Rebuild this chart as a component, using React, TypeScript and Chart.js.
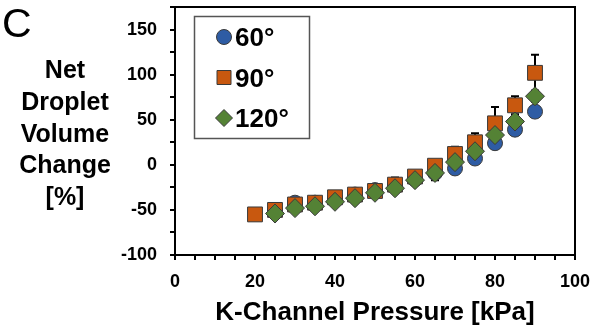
import React, { useEffect, useRef } from "react";
import { Chart, registerables } from "chart.js";

Chart.register(...registerables);

const pressures = [20, 25, 30, 35, 40, 45, 50, 55, 60, 65, 70, 75, 80, 85, 90];
const pressures60 = [25, 30, 35, 40, 45, 50, 55, 60, 65, 70, 75, 80, 85, 90];
const pressures120 = [25, 30, 35, 40, 45, 50, 55, 60, 65, 70, 75, 80, 85, 90];

const vol60 = [-50, -42, -42, -37, -33, -28, -23, -16, -9, -4, 7, 24, 39, 59];
const err60 = [3, 3, 3, 3, 3, 3, 4, 4, 8, 4, 4, 5, 5, 6];
const vol90 = [-55, -50, -44, -42, -36, -33, -29, -22, -13, -1, 12, 25, 46, 66, 102];
const err90 = [2, 3, 3, 3, 3, 3, 4, 8, 4, 4, 8, 10, 18, 10, 20];
const vol120 = [-54, -48, -46, -41, -37, -31, -26, -17, -9, 3, 15, 33, 48, 76];
const err120 = [3, 3, 3, 3, 3, 3, 3, 3, 3, 4, 4, 5, 5, 6];

const seriesLabels = ["60°", "90°", "120°"];
const xTitle = "K-Channel Pressure [kPa]";
const yTitleLines = ["Net", "Droplet", "Volume", "Change", "[%]"];
const panelLetter = "C";

const BLUE = "#2E5CA4";
const ORANGE = "#C8580F";
const GREEN = "#548235";
const EDGE = "#3a3a3a";
const FONT = "Arial, 'Liberation Sans', Helvetica, sans-serif";

function drawMarker(ctx: CanvasRenderingContext2D, style: string, x: number, y: number, r: number, fill: string) {
  ctx.save();
  ctx.fillStyle = fill;
  ctx.strokeStyle = EDGE;
  ctx.lineWidth = 1;
  ctx.beginPath();
  if (style === "circle") {
    ctx.arc(x, y, r, 0, Math.PI * 2);
  } else if (style === "rect") {
    ctx.rect(x - r, y - r, 2 * r, 2 * r);
  } else {
    ctx.moveTo(x, y - r);
    ctx.lineTo(x + r, y);
    ctx.lineTo(x, y + r);
    ctx.lineTo(x - r, y);
    ctx.closePath();
  }
  ctx.fill();
  ctx.stroke();
  ctx.restore();
}

const errorBarPlugin = {
  id: "errorBars",
  beforeDatasetsDraw(chart: any) {
    const ctx = chart.ctx;
    const xs = chart.scales.x;
    const ys = chart.scales.y;
    ctx.save();
    ctx.strokeStyle = "#000";
    ctx.lineWidth = 2;
    chart.data.datasets.forEach((ds: any) => {
      const errs: number[] = ds.errors || [];
      ds.data.forEach((p: any, i: number) => {
        const e = errs[i];
        if (!e) return;
        const px = xs.getPixelForValue(p.x);
        const top = ys.getPixelForValue(p.y + e);
        const bot = ys.getPixelForValue(p.y - e);
        ctx.beginPath();
        ctx.moveTo(px, top);
        ctx.lineTo(px, bot);
        ctx.moveTo(px - 4, top);
        ctx.lineTo(px + 4, top);
        ctx.moveTo(px - 4, bot);
        ctx.lineTo(px + 4, bot);
        ctx.stroke();
      });
    });
    ctx.restore();
  },
};

const decorPlugin = {
  id: "decor",
  afterDraw(chart: any) {
    const ctx = chart.ctx;
    const a = chart.chartArea;
    ctx.save();
    // frame top & right
    ctx.strokeStyle = "#000";
    ctx.lineWidth = 2;
    ctx.beginPath();
    ctx.moveTo(a.left - 5, a.top);
    ctx.lineTo(a.right, a.top);
    ctx.lineTo(a.right, a.bottom);
    ctx.stroke();

    // panel letter
    ctx.fillStyle = "#000";
    ctx.font = `41px ${FONT}`;
    ctx.textAlign = "left";
    ctx.textBaseline = "alphabetic";
    ctx.fillText(panelLetter, 2, 37);

    // y title (horizontal, multi-line)
    ctx.font = `bold 25px ${FONT}`;
    ctx.textAlign = "center";
    yTitleLines.forEach((line, i) => {
      ctx.fillText(line, 65, 78 + i * 31.8);
    });

    // legend
    ctx.strokeStyle = "#555";
    ctx.lineWidth = 1.5;
    ctx.strokeRect(194.5, 16.5, 115, 122);
    const fills = [BLUE, ORANGE, GREEN];
    const styles = ["circle", "rect", "diamond"];
    const sizes = [7.5, 7, 8.5];
    ctx.font = `bold 26px ${FONT}`;
    ctx.textAlign = "left";
    seriesLabels.forEach((lab, i) => {
      const cy = 37 + i * 40.5;
      drawMarker(ctx, styles[i], 224, cy, sizes[i], fills[i]);
      ctx.fillStyle = "#000";
      ctx.fillText(lab, 235, cy + 9.3);
    });
    ctx.restore();
  },
};

export default function App() {
  const ref = useRef<HTMLCanvasElement>(null);
  useEffect(() => {
    if (!ref.current) return;
    const mk = (xs: number[], ys: number[]) => ys.map((y, i) => ({ x: xs[i], y }));
    const chart = new Chart(ref.current, {
      type: "scatter",
      data: {
        datasets: [
          {
            label: seriesLabels[0],
            data: mk(pressures60, vol60),
            errors: err60,
            pointStyle: "circle",
            pointRadius: 7.5,
            backgroundColor: BLUE,
            borderColor: EDGE,
            borderWidth: 1,
            order: 3,
          } as any,
          {
            label: seriesLabels[1],
            data: mk(pressures, vol90),
            errors: err90,
            pointStyle: "rect",
            pointRadius: 10.5,
            backgroundColor: ORANGE,
            borderColor: EDGE,
            borderWidth: 1,
            order: 2,
          } as any,
          {
            label: seriesLabels[2],
            data: mk(pressures120, vol120),
            errors: err120,
            pointStyle: "rectRot",
            pointRadius: 9.5,
            backgroundColor: GREEN,
            borderColor: EDGE,
            borderWidth: 1,
            order: 1,
          } as any,
        ],
      },
      options: {
        animation: false,
        responsive: false,
        devicePixelRatio: 1,
        layout: { autoPadding: false, padding: { top: 7, right: 24, left: 0, bottom: 0 } },
        plugins: { legend: { display: false }, tooltip: { enabled: false } },
        scales: {
          x: {
            type: "linear",
            min: 0,
            max: 100,
            afterFit: (s: any) => {
              s.height = 73;
              s.paddingLeft = 0;
              s.paddingRight = 0;
            },
            border: { color: "#000", width: 2 },
            grid: { drawOnChartArea: false, drawTicks: true, tickLength: 5, tickWidth: 2, tickColor: "#000", lineWidth: 2 },
            ticks: {
              stepSize: 5,
              autoSkip: false,
              maxRotation: 0,
              padding: 11,
              color: "#000",
              font: { family: FONT, size: 18, weight: "bold" },
              callback: (v: any) => (Number(v) % 20 === 0 ? String(v) : ""),
            },
            title: {
              display: true,
              text: xTitle,
              color: "#000",
              padding: { top: 0, bottom: 0 },
              font: { family: FONT, size: 26, weight: "bold" },
            },
          },
          y: {
            type: "linear",
            min: -100,
            max: 175,
            afterFit: (s: any) => {
              s.width = 175;
              s.paddingTop = 0;
              s.paddingBottom = 0;
            },
            border: { color: "#000", width: 2 },
            grid: { drawOnChartArea: false, drawTicks: true, tickLength: 5, tickWidth: 2, tickColor: "#000", lineWidth: 2 },
            ticks: {
              stepSize: 25,
              autoSkip: false,
              padding: 13,
              color: "#000",
              font: { family: FONT, size: 18, weight: "bold" },
              callback: (v: any) => (Number(v) % 50 === 0 && Number(v) <= 150 ? String(v) : ""),
            },
          },
        },
      } as any,
      plugins: [errorBarPlugin, decorPlugin],
    });
    return () => chart.destroy();
  }, []);
  return (
    <div style={{ position: "fixed", left: 0, top: 0, width: 599, height: 328, background: "#fff" }}>
      <canvas ref={ref} width={599} height={328} style={{ display: "block" }} />
    </div>
  );
}
